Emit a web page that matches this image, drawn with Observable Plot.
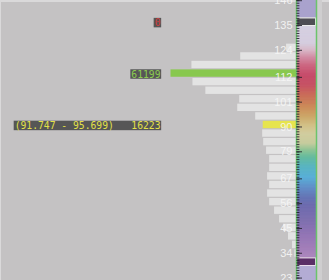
<!DOCTYPE html>
<html><head><meta charset="utf-8">
<script src="https://cdn.jsdelivr.net/npm/d3@7"></script>
<script src="https://cdn.jsdelivr.net/npm/@observablehq/plot@0.6"></script>
<style>
html,body{margin:0;padding:0;background:#c4c2c3;}
#chart{position:relative;width:329px;height:280px;overflow:hidden;background:#c4c2c3;}
#chart svg{position:absolute;left:0;top:0;overflow:hidden;}
#edge{position:absolute;left:0;top:0;width:329px;height:280px;box-sizing:border-box;border-top:2px solid #dad9da;border-left:1px solid #dad9da;}
#strip{position:absolute;left:317px;top:0;width:5px;height:280px;background:#cfcecf;}
</style></head><body><div id="chart"><div id="edge"></div><div id="strip"></div></div>
<script>
// ---- histogram data (value bins, bottom to top) ----
const binStart = 28.515;
const binWidth = 3.952;
const binCounts = [0, 800, 1940, 3900, 6300, 8260, 10700, 13100, 14100, 13100, 14100, 13100, 13100, 14600, 16000, 16500,
  16223, 19900, 28650, 27700, 44200, 50500, 61199, 51000, 27200, 4860, 0, 0, 0];
const maxBin = 22;       // green (largest count)
const selectedBin = 16;  // yellow (selected range)
const emptyBin = 28;     // red (top handle bin)

// ---- colour bar ----
const rampValues = [32.467, 37.27, 42.8, 49.72, 56.64, 60.33, 64.48, 69.55, 74.62, 78.77, 82.0, 85.23, 89.84, 93.53, 97.22, 101.83, 107.37, 111.98, 116.59, 121.2, 124.89, 128.12, 131.35, 139.171];
const rampColors = ["#a472bc", "#9464b6", "#8058b0", "#6450a8", "#4c4aa8", "#4058b0", "#3c78c8", "#30a8e0", "#30b0c0", "#40b890", "#78c484", "#c8d090", "#d8d090", "#d8c070", "#d0a048", "#d07830", "#cc4c30", "#c82840", "#c81e48", "#d04468", "#d87898", "#e0b4ca", "#dcd2ea", "#dcd6ee"];
const aboveColor = "#a9a2cd";
const belowColor = "#b3acd4";

// ---- colour bar axis labels ----
const tickLabels = [146, 135, 124, 112, 101, 90, 79, 67, 56, 45, 34, 23];

const bins = binCounts.map((c, i) => ({lo: binStart + i * binWidth, hi: binStart + (i + 1) * binWidth, count: c, i}));
const barColor = d => d.i === maxBin ? "#88c84e" : d.i === selectedBin ? "#e6e44e" : "#e3e3e3";
const annotations = [
  {b: bins[emptyBin], text: `${bins[emptyBin].count}`, color: "#d43a3a"},
  {b: bins[maxBin], text: `${bins[maxBin].count}`, color: "#8ccc50"},
  {b: bins[selectedBin], text: `(${bins[selectedBin].lo.toFixed(3)} - ${bins[selectedBin].hi.toFixed(3)})   ${bins[selectedBin].count}`, color: "#e2e048"}
];

const W = 329, H = 280;
const histY = {domain: [22.054, 151.175], range: [H, 0]};

const chart = document.getElementById("chart");
const edge = document.getElementById("edge");

// Plot A: histogram + annotations
const plotA = Plot.plot({
  width: W, height: H, margin: 0,
  style: {background: "transparent"},
  x: {domain: [0, d3.max(binCounts)], range: [296, 170.5], axis: null},
  y: {...histY, axis: null},
  color: {type: "identity"},
  marks: [
    Plot.rectX(bins, {y1: "lo", y2: "hi", x1: 0, x2: "count", fill: barColor, insetTop: 0.5, insetBottom: 0.7}),
    Plot.text(annotations, {y: d => (d.b.lo + d.b.hi) / 2, text: "text", fill: "color", frameAnchor: "left", dx: 160, dy: 1,
      textAnchor: "end", fontFamily: "DejaVu Sans Mono", fontSize: 9.7})
  ]
});
chart.insertBefore(plotA, edge);
plotA.querySelectorAll('g[aria-label="text"] text').forEach(t => {
  const b = t.getBBox();
  const r = document.createElementNS("http://www.w3.org/2000/svg", "rect");
  r.setAttribute("x", b.x - 1);
  r.setAttribute("y", b.y + 0.5);
  r.setAttribute("width", b.width + 1.5);
  r.setAttribute("height", b.height - 1.5);
  r.setAttribute("fill", "#565656");
  if (t.getAttribute("transform")) r.setAttribute("transform", t.getAttribute("transform"));
  t.parentNode.insertBefore(r, t);
});

// Plot B: colour ramp with range handles
const rampLo = bins[0].hi, rampHi = bins[bins.length - 1].lo;
const slices = d3.range(rampLo, rampHi, 0.2).map(v => ({y1: v, y2: Math.min(v + 0.2, rampHi)}));
const plotB = Plot.plot({
  width: W, height: H, margin: 0,
  style: {background: "transparent"},
  x: {domain: [0, 1], range: [296, 316], axis: null},
  y: {...histY, axis: null},
  color: {type: "linear", domain: rampValues, range: rampColors, interpolate: "rgb"},
  marks: [
    Plot.rect([histY.domain], {x1: 0, x2: 1, y1: d => bins[bins.length - 1].hi, y2: d => d[1], fill: aboveColor}),
    Plot.rect([histY.domain], {x1: 0, x2: 1, y1: d => d[0], y2: d => bins[0].lo, fill: belowColor}),
    Plot.rect(slices, {x1: 0, x2: 1, y1: "y1", y2: "y2", fill: d => (d.y1 + d.y2) / 2}),
    Plot.rect([bins[bins.length - 1]], {x1: 0, x2: 1, y1: "lo", y2: "hi", fill: "#4e4e54", stroke: "#eeeeee", strokeWidth: 1, inset: 0.5}),
    Plot.rect([bins[0]], {x1: 0, x2: 1, y1: "lo", y2: "hi", fill: "#5a2e66", stroke: "#eadcec", strokeWidth: 1, inset: 0.5}),
    Plot.ruleX([0, 1], {stroke: "#6cc46c", strokeWidth: 1.5})
  ]
});
chart.appendChild(plotB);

// Plot C: tick marks and labels of the colour bar
const labelStep = (tickLabels[0] - tickLabels[tickLabels.length - 1]) / (tickLabels.length - 1);
const minor = d3.range(tickLabels[tickLabels.length - 1] - labelStep, tickLabels[0] + labelStep, labelStep / 10);
const plotC = Plot.plot({
  width: W, height: H, margin: 0,
  style: {background: "transparent"},
  x: {domain: [0, 1], range: [296, 316], axis: null},
  y: {domain: [21.92, 146.09], range: [H, 0], axis: null},
  marks: [
    Plot.ruleY(minor, {x1: 0.02, x2: 0.17, stroke: "#1e1e28", strokeWidth: 1, strokeOpacity: 0.85}),
    Plot.ruleY(tickLabels, {x1: 0.02, x2: 0.3, stroke: "#1e1e28", strokeWidth: 1, strokeOpacity: 0.85}),
    Plot.text(tickLabels, {y: d => d, x: 0, dx: -4, textAnchor: "end", fill: "#f6f6f6", fillOpacity: 0.92,
      fontSize: 11, fontFamily: "Liberation Sans"})
  ]
});
chart.appendChild(plotC);
</script></body></html>
